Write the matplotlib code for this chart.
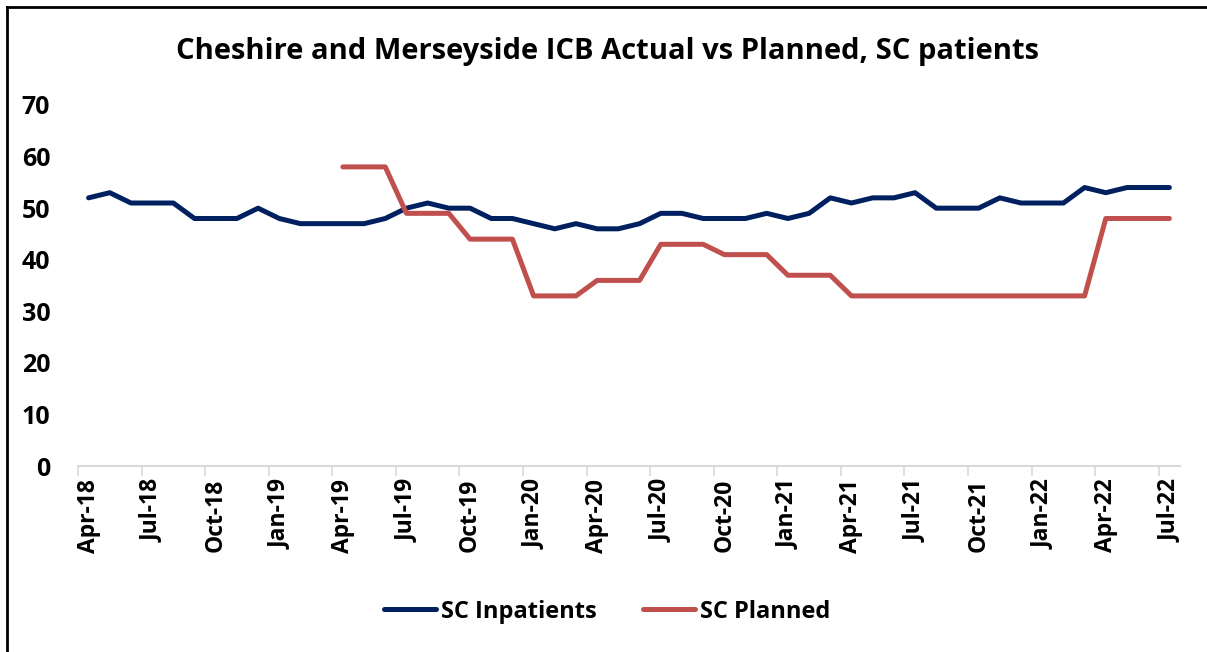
import numpy as np
import matplotlib
matplotlib.use("Agg")
import matplotlib.pyplot as plt
from matplotlib.lines import Line2D

plt.rcParams["font.family"] = ["Open Sans", "DejaVu Sans"]
plt.rcParams["font.weight"] = "bold"

months = ["Apr-18", "May-18", "Jun-18", "Jul-18", "Aug-18", "Sep-18", "Oct-18", "Nov-18", "Dec-18",
          "Jan-19", "Feb-19", "Mar-19", "Apr-19", "May-19", "Jun-19", "Jul-19", "Aug-19", "Sep-19",
          "Oct-19", "Nov-19", "Dec-19", "Jan-20", "Feb-20", "Mar-20", "Apr-20", "May-20", "Jun-20",
          "Jul-20", "Aug-20", "Sep-20", "Oct-20", "Nov-20", "Dec-20", "Jan-21", "Feb-21", "Mar-21",
          "Apr-21", "May-21", "Jun-21", "Jul-21", "Aug-21", "Sep-21", "Oct-21", "Nov-21", "Dec-21",
          "Jan-22", "Feb-22", "Mar-22", "Apr-22", "May-22", "Jun-22", "Jul-22"]

sc_inpatients = [52, 53, 51, 51, 51, 48, 48, 48, 50, 48, 47, 47, 47, 47, 48, 50, 51, 50,
                 50, 48, 48, 47, 46, 47, 46, 46, 47, 49, 49, 48, 48, 48, 49, 48, 49, 52,
                 51, 52, 52, 53, 50, 50, 50, 52, 51, 51, 51, 54, 53, 54, 54, 54]

nan = np.nan
sc_planned = [nan] * 12 + [58, 58, 58, 49, 49, 49, 44, 44, 44, 33, 33, 33, 36, 36, 36,
                           43, 43, 43, 41, 41, 41, 37, 37, 37] + [33] * 12 + [48, 48, 48, 48]

NAVY = "#002060"
RED = "#C0504D"

fig = plt.figure(figsize=(12.07, 6.52), dpi=100)
ax = fig.add_axes([0.0646, 0.285, 0.913, 0.554])

x = np.arange(len(months))
ax.plot(x, sc_inpatients, color=NAVY, lw=3.6, solid_capstyle="round",
        solid_joinstyle="round", label="SC Inpatients")
ax.plot(x, sc_planned, color=RED, lw=3.6, solid_capstyle="round",
        solid_joinstyle="round", label="SC Planned")

ax.set_xlim(-0.5, len(months) - 0.5)
ax.set_ylim(0, 70)
ax.set_yticks(range(0, 71, 10))
ax.tick_params(axis="y", length=0, pad=20, labelsize=18)

# labels every 3rd month, tick marks on category boundaries
ax.set_xticks(x[::3])
ax.set_xticklabels(months[::3], rotation=90, fontsize=16.5)
ax.tick_params(axis="x", length=0, pad=9)
ax.set_xticks(np.arange(-0.5, len(months) - 1, 3), minor=True)
ax.tick_params(axis="x", which="minor", length=7, color="#D9D9D9", width=1.2)

for s in ["top", "right", "left"]:
    ax.spines[s].set_visible(False)
ax.spines["bottom"].set_color("#D9D9D9")
ax.spines["bottom"].set_linewidth(1.5)

fig.text(0.503, 0.921, "Cheshire and Merseyside ICB Actual vs Planned, SC patients",
         ha="center", va="center", fontsize=21, fontweight="bold")

fig.legend(loc="center", bbox_to_anchor=(0.503, 0.062), ncol=2, frameon=False,
           fontsize=17, handlelength=2.2, handletextpad=0.2, columnspacing=2.0)

# chart border (left and top edges visible)
fig.add_artist(Line2D([0.006, 0.006], [0, 0.989], transform=fig.transFigure, color="black", lw=2))
fig.add_artist(Line2D([0.006, 1.0], [0.989, 0.989], transform=fig.transFigure, color="black", lw=2))

plt.savefig("out.png", dpi=100)
plt.close()
